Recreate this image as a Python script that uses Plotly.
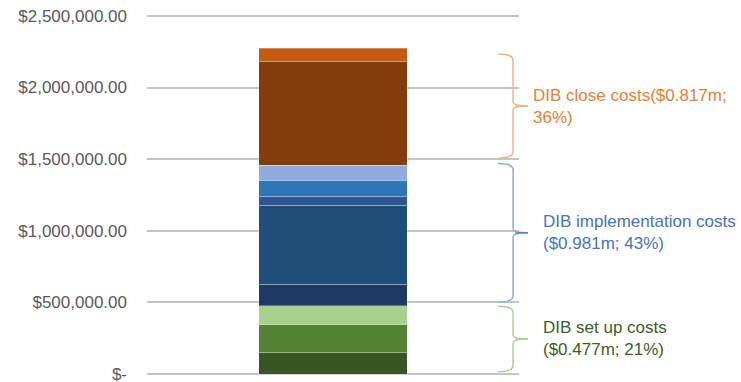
import plotly.graph_objects as go

# Data (bottom to top)
segment_names = ["Set up 1", "Set up 2", "Set up 3",
                 "Implementation 1", "Implementation 2", "Implementation 3",
                 "Implementation 4", "Implementation 5",
                 "Close 1", "Close 2"]
segment_values = [152000, 194000, 131000,
                  149000, 552000, 65000, 108000, 107000,
                  727000, 90000]
segment_colors = ["#375623", "#548235", "#A9D18E",
                  "#203864", "#1F4E79", "#2F5597", "#2E75B6", "#8FAADC",
                  "#843C0C", "#C55A11"]

tick_values = [0, 500000, 1000000, 1500000, 2000000, 2500000]
tick_labels = ["$-", "$500,000.00", "$1,000,000.00", "$1,500,000.00",
               "$2,000,000.00", "$2,500,000.00"]

# Group annotations
group_labels = ["DIB set up costs<br>($0.477m; 21%)",
                "DIB implementation costs<br>($0.981m; 43%)",
                "DIB close costs($0.817m;<br>36%)"]
group_bottoms = [17000, 502000, 1507000]
group_tops = [474000, 1470000, 2234000]
group_text_colors = ["#3B5E28", "#4472C4", "#ED7D31"]
group_brace_colors = ["#A9D18E", "#8FAADC", "#F4B183"]
group_point_colors = ["#A9D18E", "#4472C4", "#F4B183"]
group_text_x = [1.060, 1.060, 1.033]

fig = go.Figure()
for name, val, col in zip(segment_names, segment_values, segment_colors):
    fig.add_trace(go.Bar(
        x=[0], y=[val], name=name, width=0.4,
        marker=dict(color=col, line=dict(color="rgba(255,255,255,0.3)", width=1)),
        showlegend=False, hoverinfo="y+name"))

# braces
x0, x1, x2 = 0.9435, 0.984, 1.024
r = 45000
for lab, yb, yt, tc, bc, pc, tx in zip(group_labels, group_bottoms, group_tops,
                                       group_text_colors, group_brace_colors,
                                       group_point_colors, group_text_x):
    ym = (yb + yt) / 2
    path = (f"M {x0},{yt} Q {x1},{yt} {x1},{yt - r} "
            f"L {x1},{ym + r * 0.7} Q {x1},{ym} {x2},{ym} "
            f"Q {x1},{ym} {x1},{ym - r * 0.7} "
            f"L {x1},{yb + r} Q {x1},{yb} {x0},{yb}")
    fig.add_shape(type="path", path=path, xref="paper", yref="y",
                  line=dict(color=bc, width=1.5), layer="above")
    fig.add_shape(type="line", xref="paper", yref="y",
                  x0=x1 + 0.006, x1=x2, y0=ym, y1=ym,
                  line=dict(color=pc, width=1.2), layer="above")
    fig.add_annotation(x=tx, y=ym, xref="paper", yref="y", text=lab,
                       showarrow=False, xanchor="left", yanchor="middle",
                       align="left",
                       font=dict(family="Liberation Sans, Arial", size=17, color=tc))

fig.update_layout(
    barmode="stack",
    width=741, height=382,
    margin=dict(l=147, r=222, t=13, b=5, autoexpand=False),
    paper_bgcolor="white", plot_bgcolor="white",
    xaxis=dict(range=[-0.5, 0.5], showticklabels=False, showgrid=False,
               zeroline=False, showline=False, fixedrange=True, automargin=False),
    yaxis=dict(range=[-20000, 2520000], tickvals=tick_values, ticktext=tick_labels,
               showgrid=True, gridcolor="#C4C4C4", gridwidth=2,
               zeroline=True, zerolinecolor="#C4C4C4", zerolinewidth=2,
               showline=False, ticks="", automargin=False,
               ticklabelstandoff=19, ticklabeloverflow="allow",
               tickfont=dict(family="Liberation Sans, Arial", size=17, color="#595959")),
    font=dict(family="Liberation Sans, Arial"),
)

fig.write_html("out.html")
